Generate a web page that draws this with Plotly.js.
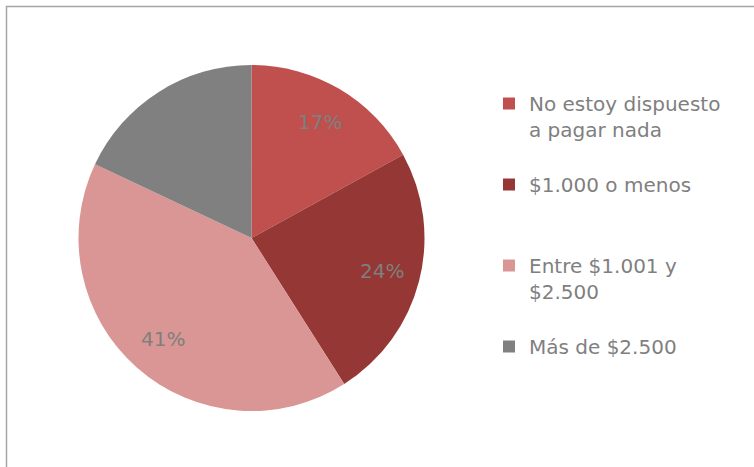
<!DOCTYPE html>
<html>
<head>
<meta charset="utf-8">
<script src="https://cdn.plot.ly/plotly-3.0.1.min.js"></script>
<style>
  html, body { margin: 0; padding: 0; background: #ffffff; }
  #chart { width: 754px; height: 467px; }
</style>
</head>
<body>
<div id="chart"></div>
<script>
// answers to "how much would you pay"
const categories = [
  'No estoy dispuesto<br>a pagar nada<br> ',
  '$1.000 o menos<br> <br> ',
  'Entre $1.001 y<br>$2.500<br> ',
  'Más de $2.500'
];
const shares = [17, 24, 41, 18];
const sliceColors = ['#C0504D', '#953735', '#D99694', '#808080'];
// the grey slice's label is grey on grey in the original, so it is left out
const showPct = [true, true, true, false];

const textGray = '#7F7F7F';
const W = 754, H = 467;

// pie placement (pixels)
const pieLeft = 78, pieRight = 425, pieTop = 65, pieBottom = 411;
const cx = (pieLeft + pieRight) / 2;
const cy = (pieTop + pieBottom) / 2;
const radius = (pieRight - pieLeft) / 2;
const labelRadius = 0.775 * radius;

/**
 * percent labels sit further out than plotly puts them,
 * so place them along each slice's middle angle
 */
function percentLabels() {
  const total = shares.reduce((a, b) => a + b, 0);
  let acc = 0;
  const out = [];
  shares.forEach((v, i) => {
    const mid = (acc + v / 2) / total * 2 * Math.PI;
    acc += v;
    if (!showPct[i]) return;
    const px = cx + labelRadius * Math.sin(mid);
    const py = cy - labelRadius * Math.cos(mid);
    out.push({
      xref: 'paper',
      yref: 'paper',
      x: px / W,
      y: 1 - py / H,
      xanchor: 'center',
      yanchor: 'middle',
      text: Math.round(v / total * 100) + '%',
      showarrow: false,
      font: { size: 20, color: textGray }
    });
  });
  return out;
}

const pieTrace = {
  type: 'pie',
  labels: categories,
  values: shares,
  sort: false,
  direction: 'clockwise',
  rotation: 0,
  marker: {
    colors: sliceColors,
    line: { width: 0 }
  },
  textinfo: 'none',
  hoverinfo: 'label+percent',
  domain: {
    x: [pieLeft / W, pieRight / W],
    y: [1 - pieBottom / H, 1 - pieTop / H]
  }
};

const layout = {
  width: W,
  height: H,
  margin: { l: 0, r: 0, t: 0, b: 0 },
  paper_bgcolor: '#ffffff',
  font: { family: 'DejaVu Sans, sans-serif', color: textGray },
  showlegend: true,
  legend: {
    x: 489 / W,
    xanchor: 'left',
    y: 1 - 84 / H,
    yanchor: 'top',
    valign: 'top',
    font: { size: 20, color: textGray },
    bgcolor: 'rgba(0,0,0,0)'
  },
  annotations: percentLabels(),
  shapes: [
    {
      // chart area frame, runs off the right and bottom edges
      type: 'rect',
      xref: 'paper',
      yref: 'paper',
      x0: 6.5 / W,
      x1: 1.02,
      y0: -0.02,
      y1: 1 - 6.5 / H,
      line: { color: '#A6A6A6', width: 1.5 }
    }
  ]
};

Plotly.newPlot('chart', [pieTrace], layout, { displayModeBar: false, staticPlot: true });
</script>
</body>
</html>
